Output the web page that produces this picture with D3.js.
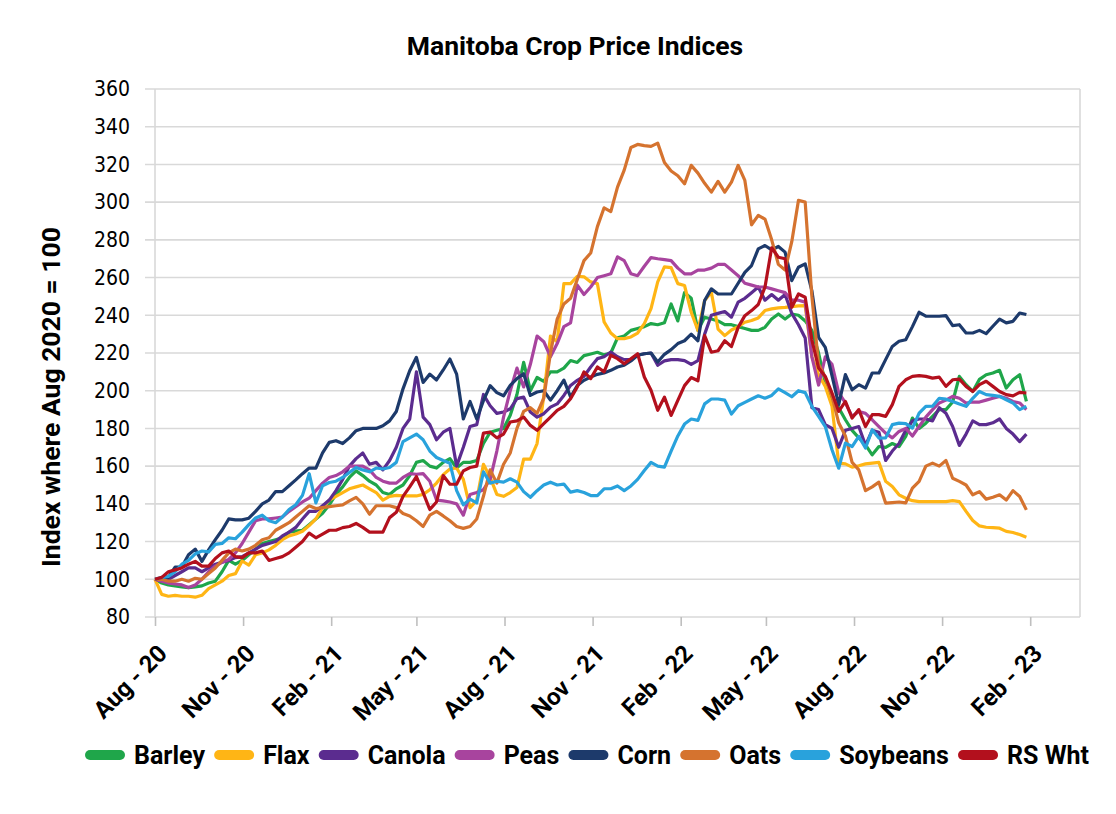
<!DOCTYPE html>
<html><head><meta charset="utf-8">
<script src="https://cdn.jsdelivr.net/npm/d3@7"></script>
<style>
body{margin:0;background:#fff;}
svg{display:block;}
</style></head><body>
<svg id="chart" width="1116" height="814"></svg>
<script>
// ---------- DATA (weekly index, Aug 2020 = 100) ----------
const chartTitle = "Manitoba Crop Price Indices";
const yAxisTitle = "Index where Aug 2020 = 100";
const seriesNames = ["Barley","Flax","Canola","Peas","Corn","Oats","Soybeans","RS Wht"];
const seriesColors = ["#1fa64a","#ffb515","#5b2c8f","#a8449e","#1d3a6b","#d5732f","#29a2dc","#b3101d"];
const xTickLabels = ["Aug - 20","Nov - 20","Feb - 21","May - 21","Aug - 21","Nov - 21","Feb - 22","May - 22","Aug - 22","Nov - 22","Feb - 23"];
const yTicks = [80,100,120,140,160,180,200,220,240,260,280,300,320,340,360];

const barley = [100,98,97,96.5,96,95.6,96,96.5,98,99,
104,110,108,110,113,116,119,120,121,122,
125,125.5,126,129,132,135,139.5,145,149,154,
157.5,155,152,150,146,145,148,150,155,162,
163,160,159,162,164,159,162,162,163,172,
178,179,180,187,198,215,200,207,205,210,
210,212,216,215,218.6,219.5,220.4,219,220,228,
229,232,233,234,235.6,235,236,246,237,252,
249,232,239,238,237,235,235,234,233,232,
232,233.6,238,240.7,238,240.7,240,237,232,220,
204,196,191,184.6,179,175,171.3,166,170.4,170,
172,170.4,175.8,185.5,180,182.8,186.4,190,190,194,
207.6,203.2,199.6,206,208.5,209.4,210.8,201.4,205.8,208.5,194.3];

const flax = [100,92,91,91.5,91,91,90.5,91.5,95,97,
99,102,103,109.7,107.5,113,114,115.6,118,121,
123,124,125.5,128.5,132,138,142,144,146,148,
149,150,148,146,142,144,144.5,144.2,144.2,144.2,
145,147.5,151,155.5,158.5,159,153,138,142,161,
154,145,144,146,148.7,163.7,163.7,172,197,229,
226,256.8,256.8,260.7,260.4,257.7,256.8,236.5,230.6,227.6,
227.6,228.5,230.6,235.6,243.5,257.7,265.7,265.3,256.8,255.8,
241.6,231.9,247.8,252.2,232.7,229.2,232.2,234,236.3,237.2,
238.6,242.5,243.4,243.9,244.2,244.6,245,245.1,218,208.5,
202.3,191.7,161.6,161.2,159.5,160.2,161.2,161.6,162,152,
149.2,144.8,143,141.7,141.2,141.2,141.2,141.2,141.2,141.7,
141.2,136,131.2,128.3,127.6,127.4,127.1,125.4,124.8,123.7,122.3];

const canola = [100,99,100,102,104,106,106,104,106,108,
109,110,111.5,112,114,116,118,119,120,123,
125,127.5,132,136,136,139,142,147,153,160,
164,167,161,162,158,163,170,180,185,210,
186,182,174,178,180,160,170,181,182,198,
192,188,188.7,190.4,195.8,196.6,188.7,186,187.8,191.3,
193,197.5,202.8,205.5,207.6,212.6,217,218,220.5,218,
216.5,216.5,218.8,219.6,220,213.5,215.8,216.5,216.5,216,
214,216,230,240,241,242,239,247,249,252,
255,248,251,248,251,241,235,228,191,190,
182,180,170,179,180,181,171,179,178,163,
168,172,179,184,185,185,184,191,188,181,
171,177,184,182,182,183,185,180,177,173,177];

const peas = [100,99,98,97.5,97,95.6,97,100,104,107,
109,110.5,114,119,125,131,132,132,132.5,133,
136,138.5,141,143,147,151,154,155,157,160,
160,160,158,154,152,151,151,154,156,155.7,
156,152,142,141.6,141,140,134,145,146,147.5,
153,168,186,200,212,202,214,229,226,218,
225,234,236,256,251,255,260,261,262,271,
269,262,261,266,270.6,270,269.5,269,265,262,
262,264,264,265,267,267,264,261,257,256,
255,255,254,253,252,248,248,247,218,203,
218,214,199,193.5,186.4,189,188,184.6,181,177.5,
175,178.4,180,176,181,186,190,193.5,195,197,
196,193.5,194,194,195,196,197,196,194.3,193.5,190];

const corn = [100,100.5,101,106.5,106.5,113,116,109.5,115.6,121,
126,132,131.5,131.5,132.4,136,140,142,146.5,146.5,
149.6,152.7,156,159,159,167,172.6,173.5,172,175,
178.8,180,180,180,181.4,184,189,201,210.6,217.7,
204.4,208.8,205.7,211,216.8,208.8,185,194.3,185,194.7,
202.7,199,197.3,202.8,206.4,209,197.5,199.3,200,195,
200,205.6,196.7,202.8,205.5,207.3,208.7,209.4,210.8,212.6,
213.5,215.8,218.8,219.6,220,215.2,219.3,221.8,225,226.5,
230,226.5,247.8,254,251.3,251.3,251.3,257,262.8,266.4,
275.2,277,274.7,276.5,273.5,258.4,265.5,267.3,253,228.3,
223,208,192.6,208.5,200.5,203.2,201.4,209.4,209.4,216.5,
223.5,226.2,227,234,241.6,239.5,239.5,239.5,239.8,234.5,
235,230.6,230.6,232,230.3,234.2,238,236,236.8,241.2,240.4];

const oats = [100,100,99,99,100,99,100.5,100,103,106,
110,114,116,115,116,118,121,122,126,128,
130,133,136,139,137.5,138,138.5,139,139.5,141.6,
143.4,140,134.5,139,139,139,138,134.9,133.6,131,
128,134,136,133.6,131,128,127,128,132,144,
158,151,161,167,180,189,191,188,196,220,
238,246,249,259,269,273,287,297,295,308,
317,329,330.6,330,329.6,331.3,321,316.5,314,309.7,
319.5,315.4,310,305.3,311,305.3,310.6,319.5,311.5,288,
293,291,280,267,264,279,301,300,250,214,
207,197,183,176,162,158,147,149,151.5,140.4,
140.7,141,140.5,148.3,151.9,160,161.6,160,163,153.6,
151.9,150,144.8,146.5,142.5,143.5,144.8,142,147,143.9,136.8];

const soybeans = [100,101,101.5,104,108,110,113.5,115,114.5,118.5,
119,122,121.5,125,129,132.5,134,131,130,133,
137,139.5,144.5,156,140.5,149.6,151.3,152,154,156.6,
159.3,158,157,159,158.5,159.3,162,173,175,177,
174,168,164.6,163,161.5,147,139.5,142.5,140.5,157,
151,152,151.5,153.3,151.5,146.5,143.5,147,150,151.5,
150,150.5,146.2,147,146,144.4,144.4,148,148,149.5,
147,149.5,153,157.7,162,160,159.5,168,176,182.3,
185,184.3,193,195.6,195.6,195,187.6,192,193.8,195.6,
197.3,196,197.5,201,199,196.8,200,199,191.7,186.4,
181,168.7,158.9,172.2,170.4,175.8,169.6,179.3,174.9,175,
182,182.8,182.5,180.2,188.1,191.7,191.8,196,195.5,194.3,
193,191.7,196,199.6,197.9,197.5,197,195.2,193.5,190,191.7];

const rsWht = [100,101,104,105,106,108,109.5,107,107,111,
114,115,112,111.5,114,114,115,110,111,112,
114,117,120,124.5,122,124,126,126,127.4,128,
129.6,127.5,125,125,125,132.7,135.5,144,149,154.5,
146,137,141,155,150.4,150.4,157.5,159.3,160,177.5,
178,175,177,183.4,184,186,181.6,179,182.5,186,
189.6,191.7,195.8,202,210,206.4,212.6,210,218.8,217,
214.3,217,219.6,207.3,200.2,189.6,196.6,186.9,194.9,202.7,
207,205.3,229.2,220.4,221.2,226.5,223.4,233.6,239.8,242.5,
245.7,254.9,275.8,270.8,270,244.2,251.3,249.6,227,212,
207.6,198.8,189,194.3,185.5,190,181,187.3,187.3,186.4,
192.6,202.3,205.8,207.6,208,207.6,206.7,207.2,202.3,205.8,
206.1,202.3,199.6,203.2,205,202.3,199.6,197.9,197.3,199.1,198.8];

const seriesValues = [barley, flax, canola, peas, corn, oats, soybeans, rsWht];

// ---------- SCALES ----------
const startDate = new Date(2020, 7, 1);
const dates = barley.map((_, i) => d3.timeDay.offset(startDate, 7 * i));
const tickDates = xTickLabels.map((_, i) => d3.timeMonth.offset(startDate, 3 * i));

const L = 155, R = 1080, T = 89, B = 617;
const x = d3.scaleTime().domain([startDate, new Date(2023, 2, 25)]).range([L, R]);
const y = d3.scaleLinear().domain([80, 360]).range([B, T]);

const svg = d3.select("#chart");
svg.append("rect").attr("width", 1116).attr("height", 814).attr("fill", "#fff");

const narrow = "'Liberation Sans Narrow','DejaVu Sans Condensed',sans-serif";
const bold = "Roboto,'Liberation Sans',sans-serif";
const gridCol = "#d9d9d9";

// gridlines
svg.append("g").selectAll("line").data(yTicks).join("line")
  .attr("x1", L - 10).attr("x2", R)
  .attr("y1", d => y(d)).attr("y2", d => y(d))
  .attr("stroke", gridCol).attr("stroke-width", 1.6);

// plot border
svg.append("line").attr("x1", L).attr("x2", L).attr("y1", T).attr("y2", B)
  .attr("stroke", gridCol).attr("stroke-width", 1.6);
svg.append("line").attr("x1", R).attr("x2", R).attr("y1", T).attr("y2", B)
  .attr("stroke", gridCol).attr("stroke-width", 1.6);

// y axis labels
const yAxis = d3.axisLeft(y).tickValues(yTicks).tickSize(0).tickPadding(25);
const gy = svg.append("g").attr("transform", `translate(${L},0)`).call(yAxis);
gy.select(".domain").remove();
gy.selectAll("text").attr("font-family", narrow).attr("font-size", 21).attr("fill", "#000");

// x axis
const xAxis = d3.axisBottom(x).tickValues(tickDates).tickFormat((d, i) => xTickLabels[i])
  .tickSizeInner(9).tickSizeOuter(0);
const gx = svg.append("g").attr("transform", `translate(0,${B})`).call(xAxis);
gx.select(".domain").remove();
gx.selectAll(".tick line").attr("stroke", "#bfbfbf").attr("stroke-width", 1.6);
gx.selectAll("text")
  .attr("font-family", bold).attr("font-weight", "bold").attr("font-size", 24).attr("fill", "#000")
  .attr("text-anchor", "end").attr("x", 0).attr("y", 0).attr("dy", 0)
  .attr("transform", "translate(13,38) rotate(-45)");

// lines
const line = d3.line().x((d, i) => x(dates[i])).y(d => y(d)).curve(d3.curveLinear);
svg.append("g").selectAll("path").data(seriesValues).join("path")
  .attr("d", line).attr("fill", "none")
  .attr("stroke", (d, i) => seriesColors[i]).attr("stroke-width", 3.2)
  .attr("stroke-linejoin", "round");

// title
svg.append("text").attr("x", 575).attr("y", 55).attr("text-anchor", "middle")
  .attr("font-family", bold).attr("font-weight", "bold").attr("font-size", 26.5)
  .text(chartTitle);

// y axis title
svg.append("text").attr("transform", "translate(60,397) rotate(-90)").attr("text-anchor", "middle")
  .attr("font-family", bold).attr("font-weight", "bold").attr("font-size", 26.5)
  .text(yAxisTitle);

// legend
const lg = svg.append("g");
const items = lg.selectAll("g").data(seriesNames).join("g");
items.append("line").attr("x1", 5).attr("x2", 35).attr("y1", 0).attr("y2", 0)
  .attr("stroke", (d, i) => seriesColors[i]).attr("stroke-width", 10).attr("stroke-linecap", "round");
const ltext = items.append("text").attr("x", 49).attr("y", 9)
  .attr("font-family", bold).attr("font-weight", "bold").attr("font-size", 25).text(d => d);
const widths = ltext.nodes().map(n => n.getComputedTextLength());
const natural = d3.sum(widths) + seriesNames.length * 49;
const gap = (1089 - 85 - natural) / (seriesNames.length - 1);
let cx = 85;
items.each(function(d, i) {
  d3.select(this).attr("transform", `translate(${cx},755)`);
  cx += 49 + widths[i] + gap;
});
</script>
</body></html>
